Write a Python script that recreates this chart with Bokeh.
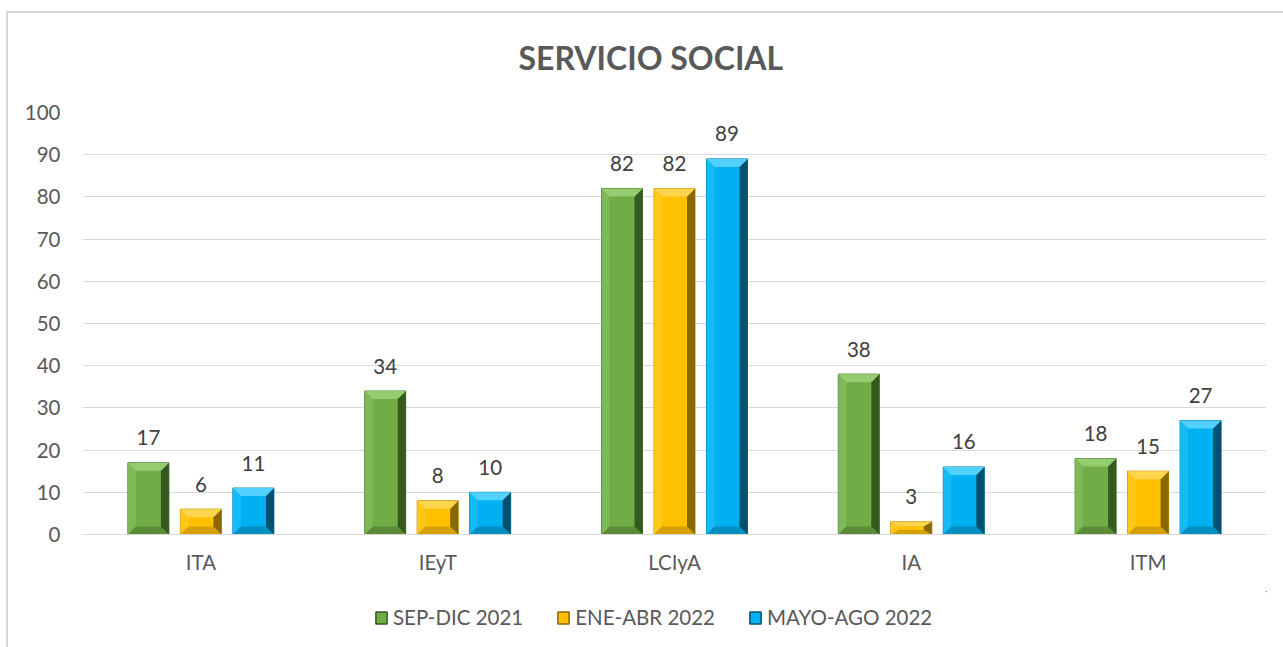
import numpy as np
from bokeh.plotting import figure
from bokeh.layouts import column
from bokeh.models import Range1d, FixedTicker, Legend, LegendItem, Title
from bokeh.core.properties import value
from bokeh.embed import file_html
from bokeh.resources import INLINE

# ---- data ----
categories = ["ITA", "IEyT", "LCIyA", "IA", "ITM"]
series_names = ["SEP-DIC 2021", "ENE-ABR 2022", "MAYO-AGO 2022"]
sep_dic_2021 = [17, 34, 82, 38, 18]
ene_abr_2022 = [6, 8, 82, 3, 15]
mayo_ago_2022 = [11, 10, 89, 16, 27]
y_ticks = [0, 10, 20, 30, 40, 50, 60, 70, 80, 90, 100]
title_text = "SERVICIO SOCIAL"

# ---- styles ----
FONT = "Lato"
FS = "20.5px"
TXT = "#595959"
GRID = "#d9d9d9"
palettes = [
    dict(face="#70AD47", top="#96CC70", left="#7DB956", right="#355A1F", bottom="#5A8C38", line="#4A7530"),
    dict(face="#FFC000", top="#FFD54D", left="#FFC61C", right="#8A6800", bottom="#D6A100", line="#B88A00"),
    dict(face="#00B0F0", top="#52D1FF", left="#16BAF5", right="#00506E", bottom="#008FC3", line="#007BA8"),
]

W = 1283
ML, MR, MT, MB = 82, 17, 111, 57
frame_w = W - ML - MR
frame_h = 422
LEG_H = 647 - (MT + frame_h + MB)
x0, x1 = -0.5, 4.5
y0, y1 = 0, 100
px_x = frame_w / (x1 - x0)
px_y = frame_h / (y1 - y0)

p = figure(frame_width=frame_w, frame_height=frame_h,
           x_range=Range1d(x0, x1), y_range=Range1d(y0, y1),
           output_backend="svg", toolbar_location=None,
           min_border_left=ML, min_border_right=MR, min_border_top=MT, min_border_bottom=MB)
p.outline_line_color = None
p.background_fill_color = "white"
p.border_fill_alpha = 0
p.styles = {
    "background-color": "white",
    "background-image": f"linear-gradient({GRID},{GRID}), linear-gradient({GRID},{GRID})",
    "background-size": "2px 100%, 100% 2px",
    "background-position": "6px 11px, 6px 11px",
    "background-repeat": "no-repeat",
}

# title
p.title = Title(text=title_text, align="left", offset=436, standoff=71,
                text_font=FONT, text_font_size="32px", text_font_style="bold",
                text_color=TXT)

# grid / axes
p.xgrid.visible = False
p.ygrid.ticker = FixedTicker(ticks=y_ticks)
p.ygrid.grid_line_color = GRID
p.ygrid.grid_line_width = 1

p.yaxis.ticker = FixedTicker(ticks=y_ticks)
p.yaxis.axis_line_color = None
p.yaxis.major_tick_line_color = None
p.yaxis.minor_tick_line_color = None
p.yaxis.major_label_standoff = 16
p.yaxis.major_label_text_font = FONT
p.yaxis.major_label_text_font_size = FS
p.yaxis.major_label_text_color = TXT

p.xaxis.ticker = FixedTicker(ticks=list(range(len(categories))))
p.xaxis.major_label_overrides = {i: c for i, c in enumerate(categories)}
p.xaxis.axis_line_color = GRID
p.xaxis.major_tick_line_color = None
p.xaxis.minor_tick_line_color = None
p.xaxis.major_label_standoff = 9
p.xaxis.major_label_text_font = FONT
p.xaxis.major_label_text_font_size = FS
p.xaxis.major_label_text_color = TXT

# ---- bars ----
bar_w = 41 / px_x
offsets = [-52.5 / px_x, 0.0, 52.5 / px_x]
bev_x = 8 / px_x
bev_y = 8 / px_y

all_series = [sep_dic_2021, ene_abr_2022, mayo_ago_2022]
for s_idx, (vals, name, pal) in enumerate(zip(all_series, series_names, palettes)):
    xs = [i + offsets[s_idx] for i in range(len(categories))]
    p.vbar(x=xs, top=vals, bottom=0, width=bar_w, fill_color=pal["face"],
           line_color=pal["line"], line_width=1)

    tops_x, tops_y, rx, ry, bx, by, lx, ly = [], [], [], [], [], [], [], []
    for x, v in zip(xs, vals):
        L, R = x - bar_w / 2, x + bar_w / 2
        T = v
        dy = min(bev_y, T * 0.35)
        dx = bev_x
        tops_x.append([L, R, R - dx, L + dx]); tops_y.append([T, T, T - dy, T - dy])
        rx.append([R, R, R - dx, R - dx]); ry.append([T, 0, dy, T - dy])
        bx.append([R, L, L + dx, R - dx]); by.append([0, 0, dy, dy])
        lx.append([L, L, L + dx, L + dx]); ly.append([0, T, T - dy, dy])
    p.patches(lx, ly, fill_color=pal["left"], line_color=None)
    p.patches(bx, by, fill_color=pal["bottom"], line_color=None)
    p.patches(rx, ry, fill_color=pal["right"], line_color=None)
    p.patches(tops_x, tops_y, fill_color=pal["top"], line_color=None)

    # data labels
    p.text(x=xs, y=[v + 25 / px_y for v in vals], text=[str(v) for v in vals],
           text_font=value(FONT), text_font_size=FS, text_color="#404040",
           text_align="center", text_baseline="middle")

# ---- legend strip (separate figure below the chart) ----
lf = figure(width=W, height=LEG_H, x_range=Range1d(0, 1), y_range=Range1d(0, 1),
            output_backend="svg", toolbar_location=None,
            x_axis_type=None, y_axis_type=None,
            min_border_left=0, min_border_right=0, min_border_top=0, min_border_bottom=0)
lf.outline_line_color = None
lf.xgrid.visible = False
lf.ygrid.visible = False
lf.background_fill_alpha = 0
lf.border_fill_alpha = 0
lf.styles = {
    "background-color": "white",
    "background-image": f"linear-gradient({GRID},{GRID})",
    "background-size": "2px 100%",
    "background-position": "6px 0px",
    "background-repeat": "no-repeat",
}
items = []
for name, pal in zip(series_names, palettes):
    # proxy glyph placed far outside the visible range: only its legend swatch shows
    r = lf.vbar(x=[50], top=[50], bottom=[40], width=0.1, fill_color=pal["face"],
                line_color=pal["right"], line_width=1.5)
    items.append(LegendItem(label=name, renderers=[r]))

legend = Legend(items=items, orientation="horizontal",
                location=(292, LEG_H - 38), padding=0, margin=0, spacing=33,
                glyph_width=14, glyph_height=15, label_standoff=5,
                label_text_font=FONT, label_text_font_size=FS,
                label_text_color=TXT, label_height=22,
                border_line_color=None, background_fill_alpha=0)
lf.add_layout(legend, "center")

layout = column(p, lf, spacing=0)
open("out.html", "w").write(file_html(layout, INLINE))
